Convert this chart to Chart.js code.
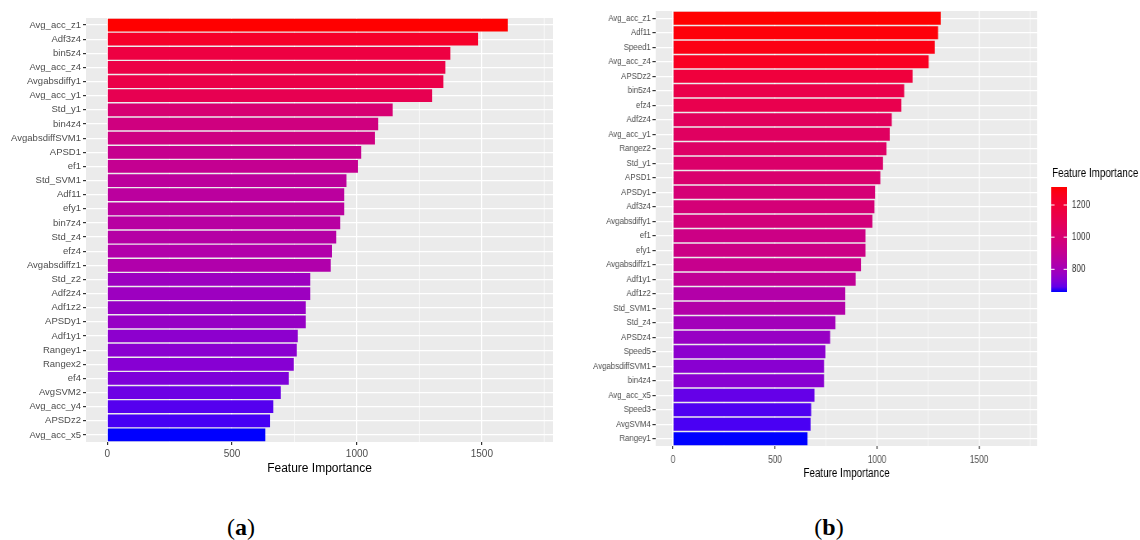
<!DOCTYPE html>
<html>
<head>
<meta charset="utf-8">
<script src="https://cdn.jsdelivr.net/npm/chart.js@4.4.1/dist/chart.umd.min.js"></script>
<style>
  html, body { margin: 0; padding: 0; background: #fff; }
  #wrap { position: relative; width: 1140px; height: 540px; overflow: hidden; }
  #chartA { position: absolute; left: 0; top: 0; }
  /* panel (b) is a horizontally squeezed copy of the ggplot style, as in the reference */
  #chartB { position: absolute; left: 570px; top: 0; transform: scaleX(0.824); transform-origin: 0 0; }
  .cap { position: absolute; top: 515px; line-height: 24px; font-size: 24px;
         font-family: "Liberation Serif", "DejaVu Serif", serif; color: #000;
         transform: translateX(-50%); }
</style>
</head>
<body>
<div id="wrap">
  <canvas id="chartA" width="570" height="482"></canvas>
  <canvas id="chartB" width="692" height="486"></canvas>
  <div class="cap" style="left:241px">(<b>a</b>)</div>
  <div class="cap" style="left:829px">(<b>b</b>)</div>
</div>
<script>
// --- Data ---
const featuresA = ['Avg_acc_z1', 'Adf3z4', 'bin5z4', 'Avg_acc_z4', 'Avgabsdiffy1', 'Avg_acc_y1',
  'Std_y1', 'bin4z4', 'AvgabsdiffSVM1', 'APSD1', 'ef1', 'Std_SVM1', 'Adf11', 'efy1', 'bin7z4',
  'Std_z4', 'efz4', 'Avgabsdiffz1', 'Std_z2', 'Adf2z4', 'Adf1z2', 'APSDy1', 'Adf1y1', 'Rangey1',
  'Rangex2', 'ef4', 'AvgSVM2', 'Avg_acc_y4', 'APSDz2', 'Avg_acc_x5'];
const importanceA = [1604, 1485, 1374, 1354, 1346, 1301, 1143, 1085, 1072, 1017, 1004, 958, 949,
  949, 933, 917, 900, 895, 813, 813, 795, 795, 763, 759, 747, 727, 695, 665, 652, 633];

const featuresB = ['Avg_acc_z1', 'Adf11', 'Speed1', 'Avg_acc_z4', 'APSDz2', 'bin5z4', 'efz4',
  'Adf2z4', 'Avg_acc_y1', 'Rangez2', 'Std_y1', 'APSD1', 'APSDy1', 'Adf3z4', 'Avgabsdiffy1', 'ef1',
  'efy1', 'Avgabsdiffz1', 'Adf1y1', 'Adf1z2', 'Std_SVM1', 'Std_z4', 'APSDz4', 'Speed5',
  'AvgabsdiffSVM1', 'bin4z4', 'Avg_acc_x5', 'Speed3', 'AvgSVM4', 'Rangey1'];
const importanceB = [1312, 1299, 1283, 1253, 1174, 1133, 1119, 1072, 1062, 1046, 1029, 1016, 990,
  987, 977, 943, 943, 921, 895, 844, 844, 796, 770, 747, 740, 740, 693, 677, 674, 659];

const xTicks = [0, 500, 1000, 1500];
const xMinorTicks = [250, 750, 1250, 1750];
const legendTicksB = [800, 1000, 1200];

const FONT = '"Liberation Sans", Arial, sans-serif';

// --- blue -> red gradient in Lab space (like scale_fill_gradient) ---
function toLin(c) { c /= 255; return c <= 0.04045 ? c / 12.92 : Math.pow((c + 0.055) / 1.055, 2.4); }
function fromLin(c) {
  const v = c <= 0.0031308 ? 12.92 * c : 1.055 * Math.pow(c, 1 / 2.4) - 0.055;
  return Math.round(Math.max(0, Math.min(1, v)) * 255);
}
function rgbToLab(rgb) {
  const R = toLin(rgb[0]), G = toLin(rgb[1]), B = toLin(rgb[2]);
  const x = (0.4124 * R + 0.3576 * G + 0.1805 * B) / 0.95047;
  const y = 0.2126 * R + 0.7152 * G + 0.0722 * B;
  const z = (0.0193 * R + 0.1192 * G + 0.9505 * B) / 1.08883;
  const f = t => t > 0.008856 ? Math.cbrt(t) : 7.787 * t + 16 / 116;
  const fx = f(x), fy = f(y), fz = f(z);
  return [116 * fy - 16, 500 * (fx - fy), 200 * (fy - fz)];
}
function labToRgb(lab) {
  const fy = (lab[0] + 16) / 116, fx = fy + lab[1] / 500, fz = fy - lab[2] / 200;
  const inv = t => t * t * t > 0.008856 ? t * t * t : (t - 16 / 116) / 7.787;
  const x = inv(fx) * 0.95047, y = inv(fy), z = inv(fz) * 1.08883;
  return [
    fromLin(3.2406 * x - 1.5372 * y - 0.4986 * z),
    fromLin(-0.9689 * x + 1.8758 * y + 0.0415 * z),
    fromLin(0.0557 * x - 0.2040 * y + 1.0570 * z)
  ];
}
const LAB_LOW = rgbToLab([0, 0, 255]);
const LAB_HIGH = rgbToLab([255, 0, 0]);
function fillColor(v, lo, hi) {
  // slight bend toward red: the printed figure reads warmer than a plain Lab ramp
  const t = Math.pow((v - lo) / (hi - lo), 0.8);
  const lab = LAB_LOW.map((c, i) => c + (LAB_HIGH[i] - c) * t);
  const rgb = labToRgb(lab);
  return `rgb(${rgb[0]},${rgb[1]},${rgb[2]})`;
}

// --- grey panel + minor grid lines ---
const panelPlugin = {
  id: 'panelBg',
  beforeDraw(chart) {
    const { ctx, chartArea: a } = chart;
    ctx.save();
    ctx.fillStyle = '#EBEBEB';
    ctx.fillRect(a.left, a.top, a.right - a.left, a.bottom - a.top);
    ctx.restore();
  },
  beforeDatasetsDraw(chart) {
    const { ctx, chartArea: a } = chart;
    const xs = chart.scales.x;
    ctx.save();
    ctx.strokeStyle = '#FFFFFF';
    ctx.lineWidth = 0.6;
    xMinorTicks.forEach(v => {
      const px = xs.getPixelForValue(v);
      if (px < a.left || px > a.right) return;
      ctx.beginPath();
      ctx.moveTo(px, a.top);
      ctx.lineTo(px, a.bottom);
      ctx.stroke();
    });
    ctx.restore();
  }
};

// --- colour bar legend for panel (b), canvas coords before the 0.824 squeeze ---
const colorbarPlugin = {
  id: 'colorbar',
  afterDraw(chart) {
    const ctx = chart.ctx;
    const lo = Math.min(...importanceB), hi = Math.max(...importanceB);
    const x0 = 584, w = 19, top = 187, bottom = 292;
    ctx.save();
    ctx.font = '12px ' + FONT;
    ctx.fillStyle = '#000';
    ctx.textAlign = 'left';
    ctx.textBaseline = 'middle';
    ctx.fillText('Feature Importance', 585, 174);

    const g = ctx.createLinearGradient(0, bottom, 0, top);
    for (let i = 0; i <= 20; i++) {
      g.addColorStop(i / 20, fillColor(lo + (hi - lo) * i / 20, lo, hi));
    }
    ctx.fillStyle = g;
    ctx.fillRect(x0, top, w, bottom - top);

    ctx.font = '10px ' + FONT;
    ctx.fillStyle = '#333';
    legendTicksB.forEach(v => {
      const y = bottom - (v - lo) / (hi - lo) * (bottom - top);
      ctx.strokeStyle = '#fff';
      ctx.lineWidth = 1;
      ctx.beginPath();
      ctx.moveTo(x0, y); ctx.lineTo(x0 + 4, y);
      ctx.moveTo(x0 + w - 4, y); ctx.lineTo(x0 + w, y);
      ctx.stroke();
      ctx.fillText(String(v), x0 + w + 6, y);
    });
    ctx.restore();
  }
};

function makeChart(canvasId, labels, values, opts) {
  const lo = Math.min(...values), hi = Math.max(...values);
  return new Chart(document.getElementById(canvasId), {
    type: 'bar',
    data: {
      labels: labels,
      datasets: [{
        data: values,
        backgroundColor: values.map(v => fillColor(v, lo, hi)),
        borderWidth: 0,
        barPercentage: 0.9,
        categoryPercentage: 1.0
      }]
    },
    options: {
      indexAxis: 'y',
      responsive: false,
      animation: false,
      layout: { padding: opts.padding },
      plugins: { legend: { display: false }, tooltip: { enabled: false } },
      scales: {
        x: {
          type: 'linear',
          min: -85,
          max: 1785,
          afterBuildTicks: axis => { axis.ticks = xTicks.map(v => ({ value: v })); },
          afterFit: axis => { axis.height = 40; },
          grid: { color: '#FFFFFF', lineWidth: 1.2, tickColor: '#333333', tickLength: 3 },
          border: { display: false },
          ticks: {
            color: '#4D4D4D', font: { family: FONT, size: 10 }, padding: opts.xPad, maxRotation: 0,
            callback: v => String(v)
          },
          title: {
            display: true, text: 'Feature Importance', color: '#000',
            font: { family: FONT, size: 12 }, padding: { top: 0, bottom: opts.titlePad }
          }
        },
        y: {
          afterFit: axis => { axis.width = opts.yWidth; },
          grid: { offset: false, color: '#FFFFFF', lineWidth: 1.2, tickColor: '#333333', tickLength: opts.yTick },
          border: { display: false },
          ticks: { color: '#4D4D4D', font: { family: FONT, size: 9.5 }, padding: 2, autoSkip: false }
        }
      }
    },
    plugins: opts.plugins
  });
}

document.addEventListener('DOMContentLoaded', function() {
  makeChart('chartA', featuresA, importanceA, {
    padding: { top: 18, right: 17, bottom: 0, left: 0 },
    yWidth: 86, yTick: 3, xPad: 3, titlePad: 6, plugins: [panelPlugin]
  });
  makeChart('chartB', featuresB, importanceB, {
    padding: { top: 11, right: 125, bottom: 0, left: 0 },
    yWidth: 104, yTick: 4, xPad: 5, titlePad: 5, plugins: [panelPlugin, colorbarPlugin]
  });
});
</script>
</body>
</html>
